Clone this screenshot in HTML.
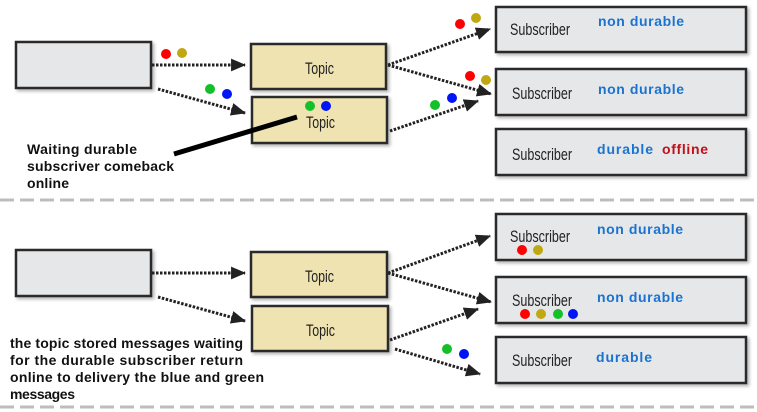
<!DOCTYPE html>
<html><head><meta charset="utf-8"><style>
html,body{margin:0;padding:0;background:#fff;width:757px;height:412px;overflow:hidden}
svg{display:block}
.t{font-family:"Liberation Sans",sans-serif;font-size:17px;fill:#222}
.b{font-family:"Liberation Sans",sans-serif;font-weight:bold;font-size:14px}
</style></head><body>
<svg width="757" height="412" viewBox="0 0 757 412" xmlns="http://www.w3.org/2000/svg">
<defs>
<marker id="a" viewBox="0 0 14 12" refX="13" refY="6" markerWidth="15" markerHeight="13" orient="auto" markerUnits="userSpaceOnUse">
<path d="M0,0 L14,6 L0,12 z" fill="#222"/>
</marker>
<filter id="s" x="-5%" y="-10%" width="115%" height="130%"><feDropShadow dx="2" dy="2" stdDeviation="1.5" flood-color="#000" flood-opacity="0.3"/></filter>
</defs>
<g stroke="#2a2a2a" stroke-width="2.5" filter="url(#s)">
<rect x="16" y="42" width="135" height="46" fill="#e6e7e9"/>
<rect x="251" y="44" width="135" height="45" fill="#efe3b2"/>
<rect x="252" y="97" width="135" height="46" fill="#efe3b2"/>
<rect x="496" y="7" width="250" height="45" fill="#e6e7e9"/>
<rect x="496" y="69" width="250" height="46" fill="#e6e7e9"/>
<rect x="496" y="129" width="250" height="46" fill="#e6e7e9"/>
<rect x="16" y="250" width="135" height="46" fill="#e6e7e9"/>
<rect x="251" y="252" width="136" height="45" fill="#efe3b2"/>
<rect x="252" y="306" width="136" height="45" fill="#efe3b2"/>
<rect x="496" y="214" width="250" height="46" fill="#e6e7e9"/>
<rect x="496" y="277" width="250" height="46" fill="#e6e7e9"/>
<rect x="496" y="337" width="250" height="46" fill="#e6e7e9"/>
</g>
<g stroke="#bdbdbd" stroke-width="3" stroke-dasharray="14,6">
<line x1="0" y1="200" x2="757" y2="200"/>
<line x1="0" y1="407" x2="757" y2="407"/>
</g>
<g stroke="#222" stroke-width="3" stroke-dasharray="2.5,1.5" fill="none" marker-end="url(#a)">
<line x1="152" y1="65" x2="245" y2="65"/>
<line x1="158" y1="89" x2="245" y2="113"/>
<line x1="388" y1="65" x2="490" y2="29"/>
<line x1="388" y1="65" x2="491" y2="94"/>
<line x1="390" y1="131" x2="478" y2="101"/>
<line x1="152" y1="273" x2="245" y2="273"/>
<line x1="158" y1="297" x2="245" y2="321"/>
<line x1="388" y1="273" x2="490" y2="236"/>
<line x1="388" y1="273" x2="491" y2="302"/>
<line x1="390" y1="340" x2="478" y2="309"/>
<line x1="395" y1="349" x2="480" y2="374"/>
</g>
<line x1="174" y1="154" x2="297" y2="117" stroke="#000" stroke-width="5"/>
<g class="t">
<text x="305" y="74" textLength="29" lengthAdjust="spacingAndGlyphs">Topic</text>
<text x="306" y="128" textLength="29" lengthAdjust="spacingAndGlyphs">Topic</text>
<text x="305" y="282" textLength="29" lengthAdjust="spacingAndGlyphs">Topic</text>
<text x="306" y="336" textLength="29" lengthAdjust="spacingAndGlyphs">Topic</text>
<text x="510" y="35" textLength="60" lengthAdjust="spacingAndGlyphs">Subscriber</text>
<text x="512" y="99" textLength="60" lengthAdjust="spacingAndGlyphs">Subscriber</text>
<text x="512" y="160" textLength="60" lengthAdjust="spacingAndGlyphs">Subscriber</text>
<text x="510" y="242" textLength="60" lengthAdjust="spacingAndGlyphs">Subscriber</text>
<text x="512" y="306" textLength="60" lengthAdjust="spacingAndGlyphs">Subscriber</text>
<text x="512" y="366" textLength="60" lengthAdjust="spacingAndGlyphs">Subscriber</text>
</g>
<g class="b" fill="#1a73d0">
<text x="598" y="26" textLength="86">non durable</text>
<text x="598" y="94" textLength="86">non durable</text>
<text x="597" y="154" textLength="56">durable</text>
<text x="597" y="234" textLength="86">non durable</text>
<text x="597" y="302" textLength="86">non durable</text>
<text x="596" y="362" textLength="56">durable</text>
</g>
<text class="b" x="662" y="154" fill="#c0101a" textLength="46">offline</text>
<g class="b" fill="#111">
<text x="27" y="154" textLength="110">Waiting durable</text>
<text x="27" y="171" textLength="147">subscriver comeback</text>
<text x="27" y="188" textLength="42">online</text>
<text x="10" y="348" textLength="233">the topic stored messages waiting</text>
<text x="10" y="365" textLength="233">for the durable subscriber return</text>
<text x="10" y="382" textLength="254">online to delivery the blue and green</text>
<text x="10" y="399" textLength="65">messages</text>
</g>
<g>
<circle cx="166" cy="54" r="5" fill="#f00"/><circle cx="182" cy="53" r="5" fill="#c0a812"/>
<circle cx="210" cy="89" r="5" fill="#13c02a"/><circle cx="227" cy="94" r="5" fill="#0015f5"/>
<circle cx="310" cy="106" r="5" fill="#13c02a"/><circle cx="326" cy="106" r="5" fill="#0015f5"/>
<circle cx="460" cy="24" r="5" fill="#f00"/><circle cx="476" cy="18" r="5" fill="#c0a812"/>
<circle cx="470" cy="76" r="5" fill="#f00"/><circle cx="486" cy="80" r="5" fill="#c0a812"/>
<circle cx="435" cy="105" r="5" fill="#13c02a"/><circle cx="452" cy="98" r="5" fill="#0015f5"/>
<circle cx="522" cy="250" r="5" fill="#f00"/><circle cx="538" cy="250" r="5" fill="#c0a812"/>
<circle cx="525" cy="314" r="5" fill="#f00"/><circle cx="541" cy="314" r="5" fill="#c0a812"/>
<circle cx="558" cy="314" r="5" fill="#13c02a"/><circle cx="573" cy="314" r="5" fill="#0015f5"/>
<circle cx="447" cy="349" r="5" fill="#13c02a"/><circle cx="464" cy="354" r="5" fill="#0015f5"/>
</g>
</svg>
</body></html>
